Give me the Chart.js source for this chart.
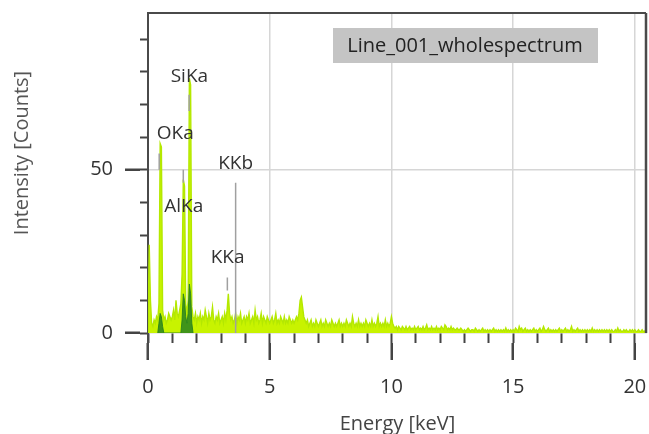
<!DOCTYPE html>
<html>
<head>
<meta charset="utf-8">
<script src="https://cdn.jsdelivr.net/npm/chart.js@4.4.1/dist/chart.umd.min.js"></script>
<style>
  html, body { margin: 0; padding: 0; background: #fff; }
  #wrap { width: 649px; height: 434px; }
</style>
</head>
<body>
<div id="wrap"><canvas id="spectrumChart"></canvas></div>
<script>
// one channel every 0.05 keV, 0 .. 20.5 keV
const channelWidth = 0.05;

// counts per channel, one row = 1 keV
const counts = [
  0, 27, 10, 3, 2, 4, 3, 5, 4, 9, 58, 57, 7, 4, 5, 3, 4, 6, 5, 4,
  5, 7, 4, 10, 6, 5, 7, 9, 18, 47, 45, 9, 6, 10, 78, 76, 8, 5, 4, 6,
  3, 5, 4, 6, 3, 5, 4, 7, 5, 3, 6, 4, 5, 8, 4, 3, 5, 4, 6, 3,
  4, 5, 3, 6, 4, 7, 12, 6, 4, 5, 3, 4, 6, 3, 5, 4, 6, 3, 4, 5,
  3, 5, 4, 6, 3, 4, 5, 3, 7, 4, 5, 3, 4, 6, 3, 5, 4, 3, 5, 4,
  3, 4, 5, 3, 4, 6, 3, 4, 3, 5, 4, 3, 5, 3, 4, 3, 5, 4, 3, 4,
  3, 4, 5, 4, 6, 10, 11, 8, 5, 4, 3, 4, 2, 3, 4, 2, 3, 2, 4, 3,
  2, 3, 4, 2, 3, 2, 4, 3, 2, 3, 2, 4, 3, 2, 3, 2, 3, 4, 2, 3,
  2, 3, 2, 4, 3, 2, 3, 2, 5, 3, 2, 3, 2, 4, 2, 3, 2, 3, 2, 4,
  3, 2, 3, 2, 4, 2, 3, 2, 3, 5, 2, 3, 2, 3, 2, 4, 2, 3, 2, 3,
  5, 3, 2, 1.5, 2, 1, 2, 1.5, 1, 2, 1.5, 1, 2, 1, 1.5, 2, 1, 1.5, 1, 2,
  1, 1.5, 2, 1, 1.5, 1, 2, 1, 1.5, 2.5, 1, 1.5, 1, 2, 1, 1.5, 1, 2, 1, 1.5,
  1, 2, 1.5, 1, 2.5, 2, 1, 1.5, 1, 2, 1, 1.5, 1, 1, 1.5, 1, 1, 1.5, 1, 0.5,
  1, 0.5, 1, 1.5, 1, 0.5, 1, 1, 0.5, 1.5, 1, 0.5, 1, 0.5, 1, 1.5, 0.5, 1, 0.5, 1,
  0.5, 1, 0.5, 1, 1.5, 0.5, 1, 0.5, 1, 0.5, 1, 0.5, 1, 0.5, 1.5, 0.5, 1, 0.5, 1, 0.5,
  1, 0.5, 1.5, 1, 0.5, 2, 1, 1.5, 0.5, 1, 1.5, 0.5, 1, 0.5, 1, 0.5, 1, 1.5, 0.5, 1,
  0.5, 1, 1.5, 0.5, 1, 2, 1, 0.5, 1, 1.5, 0.5, 1, 0.5, 1, 0.5, 1, 0.5, 1, 1.5, 0.5,
  1, 0.5, 1, 1.5, 0.5, 1, 0.5, 1, 2, 0.5, 1, 0.5, 1, 1.5, 0.5, 1, 0.5, 1, 0.5, 1,
  0.5, 1, 0.5, 1, 0.5, 1.5, 0.5, 1, 0.5, 1, 0.5, 1, 0.5, 1, 0.5, 1, 0.5, 1, 0.5, 1,
  0.5, 1, 0.5, 0.5, 1, 0.5, 1.5, 0.5, 1, 0.5, 0.5, 1, 0.5, 1, 0.5, 0.5, 1, 0.5, 1, 0.5,
  1, 0.5, 0.5, 1, 0.5, 0.5, 1, 0.5, 0.5, 1, 0.5
];

// darker overlay spectrum (only where it shows)
const darkEnergy = [0.40, 0.45, 0.50, 0.55, 0.60, 0.65, 1.35, 1.40, 1.45, 1.50, 1.55, 1.60, 1.65, 1.70, 1.75, 1.80, 1.85];
const darkCounts = [0, 3, 6, 5, 2, 0, 0, 4, 12, 10, 5, 3, 6, 15, 12, 3, 0];

// element marker lines
const lineEnergy = [0.46, 1.45, 1.69, 3.26, 3.60];
const lineLow = [50, 46, 68, 13, 0];
const lineHigh = [55, 50, 73, 17, 46];

// element labels
const labelText = ['OKa', 'AlKa', 'SiKa', 'KKa', 'KKb'];
const labelEnergy = [1.12, 1.47, 1.70, 3.27, 3.60];
const labelCounts = [61, 38.7, 78.5, 23, 52];

// axes
const spectrumName = 'Line_001_wholespectrum';
const xMax = 20.5, yMax = 98;
const xMajorTicks = [0, 5, 10, 15, 20];
const xMinorTicks = [0, 1, 2, 3, 4, 5, 6, 7, 8, 9, 10, 11, 12, 13, 14, 15, 16, 17, 18, 19, 20];
const yMajorTicks = [0, 50];
const yMinorTicks = [0, 10, 20, 30, 40, 50, 60, 70, 80, 90];

const spectrum = counts.map((c, i) => ({ x: +(i * channelWidth).toFixed(2), y: c }));
const dark = darkEnergy.map((e, i) => ({ x: e, y: darkCounts[i] }));
const markers = lineEnergy.flatMap((e, i) => [
  { x: e, y: lineLow[i] }, { x: e, y: lineHigh[i] }, { x: e, y: null }
]);

const FONT = '"Open Sans", "DejaVu Sans", sans-serif';

const useTicks = (list) => (s) => { s.ticks = list.map(v => ({ value: v })); };
const noPad = (s) => { s.paddingLeft = 0; s.paddingRight = 0; s.paddingTop = 0; s.paddingBottom = 0; };

const overlay = {
  id: 'overlay',
  afterDatasetsDraw(chart) {
    const { ctx, chartArea: a, scales: { x, y } } = chart;
    ctx.save();
    // peak labels
    ctx.font = '19px ' + FONT;
    ctx.fillStyle = '#333';
    ctx.textAlign = 'center';
    ctx.textBaseline = 'middle';
    labelText.forEach((t, i) => {
      ctx.fillText(t, x.getPixelForValue(labelEnergy[i]), y.getPixelForValue(labelCounts[i]));
    });
    // legend box
    ctx.fillStyle = '#c4c4c4';
    ctx.fillRect(a.left + 185, a.top + 15, 265, 35);
    ctx.fillStyle = '#222';
    ctx.font = '20px ' + FONT;
    ctx.fillText(spectrumName, a.left + 185 + 132, a.top + 33);
    // frame
    ctx.strokeStyle = '#4a4a4a';
    ctx.lineWidth = 2;
    ctx.beginPath();
    ctx.moveTo(a.left, a.bottom);
    ctx.lineTo(a.left, a.bottom + 25);
    ctx.moveTo(a.left - 1, a.top);
    ctx.lineTo(a.right - 1, a.top);
    ctx.stroke();
    ctx.lineWidth = 2.5;
    ctx.beginPath();
    ctx.moveTo(a.right - 1, a.top);
    ctx.lineTo(a.right - 1, a.bottom);
    ctx.stroke();
    // y title
    ctx.fillStyle = '#555';
    ctx.font = '20px ' + FONT;
    ctx.translate(a.left - 126, a.top + 140);
    ctx.rotate(-Math.PI / 2);
    ctx.fillText('Intensity [Counts]', 0, 0);
    ctx.restore();
  }
};

new Chart(document.getElementById('spectrumChart'), {
  type: 'line',
  data: {
    datasets: [
      {
        data: markers,
        borderColor: '#a0a0a0',
        borderWidth: 1.5,
        pointRadius: 0,
        spanGaps: false,
        fill: false
      },
      {
        data: dark,
        borderColor: 'rgba(40,130,30,0.9)',
        backgroundColor: 'rgba(40,130,30,0.85)',
        borderWidth: 1,
        pointRadius: 0,
        fill: 'origin'
      },
      {
        data: spectrum,
        borderColor: '#b4e800',
        backgroundColor: '#c8f300',
        borderWidth: 1.4,
        pointRadius: 0,
        tension: 0,
        fill: 'origin'
      }
    ]
  },
  options: {
    responsive: true,
    maintainAspectRatio: false,
    animation: false,
    layout: { padding: { top: 13, right: 2, left: 0, bottom: 0 } },
    plugins: { legend: { display: false }, tooltip: { enabled: false } },
    scales: {
      x: {
        type: 'linear', position: 'bottom', weight: 0,
        min: 0, max: xMax,
        afterBuildTicks: useTicks(xMinorTicks),
        ticks: { display: false },
        grid: { drawOnChartArea: false, tickLength: 10, tickColor: '#444', tickWidth: 2 },
        border: { display: false },
        afterFit: noPad
      },
      x2: {
        type: 'linear', position: 'bottom', weight: 1,
        min: 0, max: xMax,
        afterBuildTicks: useTicks(xMajorTicks),
        ticks: { padding: 15, color: '#333', font: { family: FONT, size: 20 } },
        grid: { color: '#d6d6d6', lineWidth: 1.5, tickLength: 17, tickColor: '#444', tickWidth: 2.5 },
        border: { display: false },
        title: { display: true, text: 'Energy [keV]', color: '#444', font: { family: FONT, size: 20, lineHeight: 1 }, padding: 0 },
        afterFit: (s) => { noPad(s); s.height = 91; }
      },
      y: {
        position: 'left', weight: 0,
        min: 0, max: yMax,
        afterBuildTicks: useTicks(yMinorTicks),
        ticks: { display: false },
        grid: { drawOnChartArea: false, tickLength: 8, tickColor: '#444', tickWidth: 2 },
        border: { display: true, color: '#4a4a4a', width: 2 },
        afterFit: noPad
      },
      y2: {
        position: 'left', weight: 1,
        min: 0, max: yMax,
        afterBuildTicks: useTicks(yMajorTicks),
        ticks: { padding: 12, color: '#333', font: { family: FONT, size: 20 } },
        grid: { color: '#d6d6d6', lineWidth: 1.5, tickLength: 15, tickColor: '#444', tickWidth: 2.5 },
        border: { display: false },
        afterFit: (s) => { noPad(s); s.width = 140; }
      }
    }
  },
  plugins: [overlay]
});
</script>
</body>
</html>
